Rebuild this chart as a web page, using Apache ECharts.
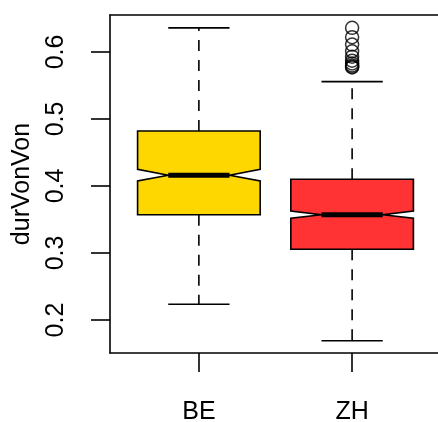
<!DOCTYPE html>
<html>
<head>
<meta charset="utf-8">
<script src="https://cdn.jsdelivr.net/npm/echarts@6/dist/echarts.min.js"></script>
<style>
  html, body { margin: 0; padding: 0; background: #fff; overflow: hidden; }
  /* plot frame's right edge runs just past the visible area */
  #frame { position: relative; width: 438px; height: 422px; overflow: hidden; }
  #chart { position: absolute; left: 0; top: 0; width: 441px; height: 422px; }
</style>
</head>
<body>
<div id="frame"><div id="chart"></div></div>
<script>
// Five-number summaries per group, with notch limits around the median
const categories   = ['BE', 'ZH'];
const boxColors    = ['#FFD700', '#FF3333'];
const lowerWhisker = [0.2234, 0.169];
const lowerQuart   = [0.357, 0.3055];
const notchLow     = [0.4075, 0.3518];
const medians      = [0.416, 0.357];
const notchHigh    = [0.425, 0.3627];
const upperQuart   = [0.482, 0.410];
const upperWhisker = [0.636, 0.5557];

// Points beyond the whiskers (ZH only)
const outliersZH = [0.636, 0.622, 0.611, 0.601, 0.593, 0.587, 0.583, 0.580, 0.578, 0.577];

const yTicks = [0.2, 0.3, 0.4, 0.5, 0.6];

const BOX_HALF = 0.4;   // half box width in x units

const boxData = categories.map((c, i) => [
  i + 1, lowerWhisker[i], lowerQuart[i], notchLow[i], medians[i],
  notchHigh[i], upperQuart[i], upperWhisker[i], i
]);

const outlierData = outliersZH.map(v => [2, v]);

function renderBox(params, api) {
  const x = api.value(0);
  const lw = api.value(1), q1 = api.value(2), nl = api.value(3), md = api.value(4);
  const nh = api.value(5), q3 = api.value(6), uw = api.value(7);
  const idx = api.value(8);
  const P = (xv, yv) => api.coord([xv, yv]);
  const w = BOX_HALF, hw = BOX_HALF / 2, cw = BOX_HALF / 2;

  const poly = [
    P(x - w, q1), P(x - w, nl), P(x - hw, md), P(x - w, nh), P(x - w, q3),
    P(x + w, q3), P(x + w, nh), P(x + hw, md), P(x + w, nl), P(x + w, q1)
  ];
  const line = (a, b, style) => ({
    type: 'line',
    shape: { x1: a[0], y1: a[1], x2: b[0], y2: b[1] },
    style: Object.assign({ stroke: '#000', lineWidth: 1.6 }, style)
  });
  const dashed = { lineDash: [11, 9] };
  return {
    type: 'group',
    children: [
      line(P(x, q3), P(x, uw), dashed),
      line(P(x, q1), P(x, lw), dashed),
      line(P(x - cw, uw), P(x + cw, uw)),
      line(P(x - cw, lw), P(x + cw, lw)),
      {
        type: 'polygon',
        shape: { points: poly },
        style: { fill: boxColors[idx], stroke: '#000', lineWidth: 1.6 }
      },
      line(P(x - hw, md), P(x + hw, md), { lineWidth: 5 })
    ]
  };
}

const chart = echarts.init(document.getElementById('chart'), null, { renderer: 'canvas' });
const FONT = '"Liberation Sans", Arial, sans-serif';
const axisLineStyle = { color: '#000', width: 1.6 };

chart.setOption({
  animation: false,
  backgroundColor: '#fff',
  grid: {
    left: 110, top: 15, right: 0, bottom: 69,
    containLabel: false,
    outerBoundsMode: 'none',
    show: false
  },
  xAxis: [
    {
      type: 'value',
      position: 'bottom',
      min: 0.42, max: 2.58,
      splitLine: { show: false },
      axisLine: { show: true, onZero: false, lineStyle: axisLineStyle },
      axisTick: { show: true, customValues: [1, 2], length: 19, lineStyle: axisLineStyle },
      axisLabel: {
        customValues: [1, 2],
        formatter: v => categories[Math.round(v) - 1],
        fontFamily: FONT, fontSize: 25, color: '#000', margin: 47
      }
    },
    {
      // top edge of the plot frame
      type: 'value',
      position: 'top',
      min: 0.42, max: 2.58,
      splitLine: { show: false },
      axisLine: { show: true, onZero: false, lineStyle: axisLineStyle },
      axisTick: { show: false },
      axisLabel: { show: false }
    }
  ],
  yAxis: {
    type: 'value',
    min: 0.15075, max: 0.6552,
    name: 'durVonVon',
    nameLocation: 'middle',
    nameRotate: 90,
    nameGap: 75,
    nameTextStyle: { fontFamily: FONT, fontSize: 25, color: '#000' },
    splitLine: { show: false },
    axisLine: { show: true, onZero: false, lineStyle: axisLineStyle },
    axisTick: { show: true, customValues: yTicks, length: 19, lineStyle: axisLineStyle },
    axisLabel: {
      customValues: yTicks,
      rotate: 90,
      formatter: v => v.toFixed(1),
      fontFamily: FONT, fontSize: 25, color: '#000', margin: 41
    }
  },
  series: [
    {
      type: 'custom',
      renderItem: renderBox,
      data: boxData,
      encode: { x: 0, y: [1, 2, 3, 4, 5, 6, 7] },
      clip: false,
      z: 2
    },
    {
      type: 'scatter',
      data: outlierData,
      symbol: 'circle',
      symbolSize: 13,
      itemStyle: { color: 'rgba(0,0,0,0)', borderColor: '#000', borderWidth: 1.5 },
      z: 3
    }
  ]
});
</script>
</body>
</html>
